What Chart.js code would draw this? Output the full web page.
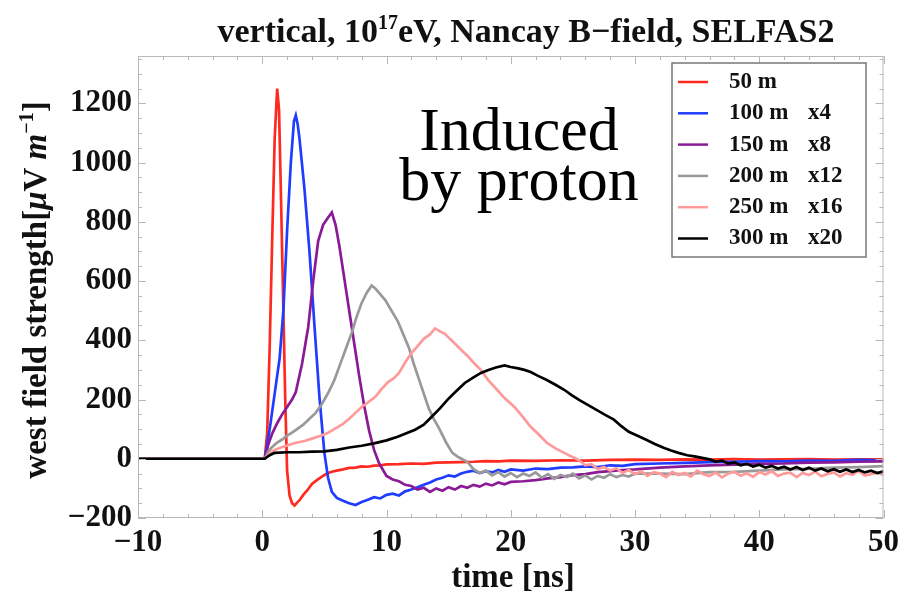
<!DOCTYPE html>
<html>
<head>
<meta charset="utf-8">
<script src="https://cdn.jsdelivr.net/npm/chart.js@4"></script>
<style>
  html, body { margin: 0; padding: 0; background: #fff; }
  #wrap { width: 905px; height: 601px; position: relative; }
</style>
</head>
<body>
<div id="wrap"><canvas id="chart"></canvas></div>
<script>
// field traces, [time ns, field µV/m] (already multiplied by the scale factor)
const trace50 = [[-10,0],[0.2,0],[0.4,90],[0.6,380],[0.8,740],[1.0,1080],[1.2,1250],[1.35,1180],[1.5,900],[1.7,500],[1.85,200],[2.0,-40],[2.2,-125],[2.4,-150],[2.6,-158],[2.8,-148],[3.0,-140],[3.3,-122],[3.6,-108],[4.0,-85],[4.4,-72],[4.8,-60],[5.2,-50],[5.6,-44],[6.0,-40],[6.5,-36],[7.0,-31],[7.5,-30],[8.0,-26],[8.5,-27],[9.0,-23],[9.5,-22],[10,-19],[11,-18],[12,-16],[13,-17],[14,-13],[15,-12],[16,-11],[17,-10],[18,-8],[19,-9],[20,-6],[22,-7],[24,-5],[26,-6],[28,-4],[30,-3],[32,-4],[34,-2],[36,-3],[38,-1],[40,-3],[42,-2],[44,-1],[46,-3],[48,-2],[50,-2]]
const trace100 = [[-10,0],[0.2,0],[0.6,100],[1.0,220],[1.4,340],[1.7,500],[2.0,770],[2.3,1000],[2.55,1140],[2.7,1160],[2.85,1130],[3.0,1080],[3.4,910],[3.8,700],[4.2,450],[4.6,210],[5.0,20],[5.3,-65],[5.6,-112],[6.0,-132],[6.5,-142],[7.0,-150],[7.5,-156],[8,-146],[8.5,-138],[9,-130],[9.5,-134],[10,-122],[10.5,-118],[11,-124],[11.5,-110],[12,-104],[12.5,-96],[13,-88],[13.5,-80],[14,-70],[14.5,-64],[15,-56],[15.5,-60],[16,-50],[16.5,-44],[17,-40],[17.5,-48],[18,-42],[18.5,-46],[19,-38],[19.5,-44],[20,-36],[21,-40],[22,-33],[23,-35],[24,-30],[25,-29],[26,-26],[27,-28],[28,-22],[29,-24],[30,-18],[32,-16],[34,-14],[36,-11],[38,-10],[40,-8],[42,-9],[44,-6],[46,-7],[48,-4],[50,-5]]
const trace150 = [[-10,0],[0.2,0],[0.5,50],[0.8,85],[1.2,120],[1.6,150],[2.0,175],[2.4,200],[2.7,225],[3.2,320],[3.7,445],[4.1,600],[4.5,735],[4.9,790],[5.3,815],[5.6,832],[5.9,790],[6.2,720],[6.6,610],[7.0,500],[7.4,390],[7.8,280],[8.2,180],[8.6,95],[9.0,30],[9.4,-15],[10,-58],[10.5,-70],[11,-76],[11.5,-88],[12,-92],[12.5,-104],[13,-98],[13.5,-112],[14,-100],[14.5,-108],[15,-96],[15.5,-104],[16,-92],[16.5,-98],[17,-88],[17.5,-94],[18,-84],[18.5,-90],[19,-80],[19.5,-86],[20,-78],[21,-76],[22,-72],[23,-66],[24,-62],[25,-55],[26,-52],[27,-45],[28,-42],[29,-38],[30,-36],[32,-30],[34,-26],[36,-22],[38,-20],[40,-17],[42,-16],[44,-13],[46,-12],[48,-10],[50,-9]]
const trace200 = [[-10,0],[0.2,0],[0.5,25],[0.8,40],[1.2,55],[1.6,65],[2.0,78],[2.4,88],[2.8,100],[3.3,115],[3.8,135],[4.3,155],[4.8,185],[5.3,222],[5.8,265],[6.4,334],[6.8,380],[7.2,425],[7.6,480],[8.0,526],[8.4,560],[8.8,585],[9.1,575],[9.4,560],[9.9,536],[10.4,500],[10.9,465],[11.4,415],[11.8,375],[12.2,320],[12.6,270],[13.0,220],[13.4,170],[13.8,135],[14.2,105],[14.8,55],[15.3,20],[15.8,5],[16.5,-10],[17,-35],[17.5,-48],[18,-40],[18.5,-56],[19,-45],[19.5,-60],[20,-48],[20.5,-62],[21,-50],[21.5,-58],[22,-46],[22.5,-64],[23,-52],[23.5,-68],[24,-55],[24.5,-62],[25,-50],[25.5,-66],[26,-56],[26.5,-70],[27,-58],[27.5,-64],[28,-52],[28.5,-62],[29,-55],[29.5,-60],[30,-50],[32,-50],[34,-52],[36,-45],[38,-44],[40,-40],[42,-36],[44,-34],[46,-30],[48,-28],[50,-25]]
const trace250 = [[-10,0],[0.2,0],[0.6,18],[1.0,30],[1.5,38],[2.0,45],[2.7,54],[3.4,60],[4.0,68],[4.7,78],[5.3,88],[6.0,105],[6.5,118],[7.0,135],[7.5,155],[8.0,175],[8.5,190],[9.1,209],[9.6,235],[10.1,258],[10.6,272],[11.0,290],[11.5,325],[12.0,357],[12.5,380],[13.0,405],[13.5,420],[13.9,440],[14.3,430],[14.7,422],[15.1,405],[15.6,385],[16.0,368],[16.5,348],[17.0,325],[17.6,300],[18.2,265],[18.9,233],[19.5,205],[20.3,175],[21.0,140],[21.6,108],[22.3,80],[22.9,54],[23.6,35],[24.3,20],[25.0,5],[25.5,-5],[26,-22],[26.5,-18],[27,-35],[27.5,-28],[28,-40],[28.5,-32],[29,-48],[29.5,-38],[30,-52],[30.5,-42],[31,-58],[31.5,-45],[32,-50],[32.5,-62],[33,-44],[33.5,-55],[34,-48],[34.5,-60],[35,-40],[35.5,-52],[36,-58],[36.5,-46],[37,-63],[37.5,-50],[38,-44],[38.5,-57],[39,-49],[39.5,-61],[40,-45],[40.5,-53],[41,-42],[41.5,-58],[42,-50],[42.5,-47],[43,-62],[43.5,-48],[44,-55],[44.5,-43],[45,-59],[45.5,-51],[46,-46],[46.5,-60],[47,-49],[47.5,-54],[48,-41],[48.5,-57],[49,-52],[49.5,-47],[50,-55]]
const trace300 = [[-10,0],[0.2,0],[0.6,12],[1.0,20],[2,22],[3,22],[4,24],[5,25],[6,30],[7,38],[8,44],[9,52],[10,62],[10.9,74],[11.6,86],[12.3,98],[13,115],[13.6,140],[14.3,170],[14.9,199],[15.6,228],[16.3,256],[17,275],[17.6,290],[18.2,300],[18.8,308],[19.5,315],[20.0,310],[20.6,305],[21.1,300],[21.6,293],[22.2,280],[22.9,266],[23.6,250],[24.3,233],[24.9,215],[25.5,199],[26.2,182],[26.9,165],[27.6,148],[28.3,132],[28.9,110],[29.5,91],[30.2,78],[30.9,64],[31.6,50],[32.3,37],[32.9,28],[33.5,20],[34.2,12],[34.9,7],[35.5,2],[36,-2],[36.5,-10],[37,-6],[37.5,-16],[38,-12],[38.5,-22],[39,-17],[39.5,-26],[40,-20],[40.5,-30],[41,-24],[41.5,-33],[42,-27],[42.5,-36],[43,-28],[43.5,-38],[44,-30],[44.5,-40],[45,-33],[45.5,-42],[46,-35],[46.5,-44],[47,-36],[47.5,-45],[48,-38],[48.5,-46],[49,-40],[49.5,-48],[50,-42]]

const distances = ['50 m', '100 m', '150 m', '200 m', '250 m', '300 m']
const factors = ['', 'x4', 'x8', 'x12', 'x16', 'x20']
const colors = ['#ff2a1f', '#1f3cff', '#8a1a96', '#999999', '#ff9a9a', '#000000']
const traces = [trace50, trace100, trace150, trace200, trace250, trace300]

const xTicks = [-10, 0, 10, 20, 30, 40, 50]
const yTicks = [-200, 0, 200, 400, 600, 800, 1000, 1200]

const SERIF = '"Liberation Serif", "Times New Roman", serif'

// draws a run of text pieces with different fonts, centred on x
function drawRich(ctx, parts, x, y) {
    let w = 0
    parts.forEach(p => { ctx.font = p.font; w += ctx.measureText(p.text).width })
    let cx = x - w / 2
    ctx.textAlign = 'left'
    ctx.textBaseline = 'alphabetic'
    parts.forEach(p => {
        ctx.font = p.font
        ctx.fillText(p.text, cx, y + (p.dy || 0))
        cx += ctx.measureText(p.text).width
    })
}

const decorations = {
    id: 'decorations',
    afterDatasetsDraw(chart) {
        const ctx = chart.ctx
        const area = chart.chartArea
        const xs = chart.scales.x
        const ys = chart.scales.y
        ctx.save()

        // frame with inward ticks
        ctx.strokeStyle = '#b8b8b8'
        ctx.lineWidth = 1
        ctx.strokeRect(area.left + 0.5, area.top + 0.5, area.right - area.left - 1, area.bottom - area.top - 1)
        ctx.beginPath()
        for (let v = -10; v <= 50; v += 2) {
            const px = Math.round(xs.getPixelForValue(v)) + 0.5
            const len = v % 10 === 0 ? 8 : 4
            ctx.moveTo(px, area.bottom); ctx.lineTo(px, area.bottom - len)
            ctx.moveTo(px, area.top); ctx.lineTo(px, area.top + len)
        }
        for (let v = -200; v <= 1350; v += 50) {
            const py = Math.round(ys.getPixelForValue(v)) + 0.5
            const len = v % 200 === 0 ? 8 : 4
            ctx.moveTo(area.left, py); ctx.lineTo(area.left + len, py)
            ctx.moveTo(area.right, py); ctx.lineTo(area.right - len, py)
        }
        ctx.stroke()

        // legend box
        const lx = 672, ly = 63, lw = 194, lh = 194
        ctx.fillStyle = '#fff'
        ctx.fillRect(lx, ly, lw, lh)
        ctx.strokeStyle = '#777'
        ctx.lineWidth = 1.5
        ctx.strokeRect(lx, ly, lw, lh)
        ctx.fillStyle = '#111'
        ctx.font = 'bold 23px ' + SERIF
        ctx.textBaseline = 'middle'
        ctx.textAlign = 'left'
        distances.forEach((d, i) => {
            const ry = 82 + i * 31.3
            ctx.strokeStyle = colors[i]
            ctx.lineWidth = 2.5
            ctx.beginPath(); ctx.moveTo(678, ry); ctx.lineTo(708, ry); ctx.stroke()
            ctx.fillText(d, 729, ry)
            if (factors[i]) ctx.fillText(factors[i], 808, ry)
        })

        // annotation
        ctx.fillStyle = '#000'
        ctx.font = '62px ' + SERIF
        ctx.textAlign = 'center'
        ctx.textBaseline = 'alphabetic'
        ctx.fillText('Induced', 519, 150)
        ctx.fillText('by proton', 519, 200)

        // title
        ctx.fillStyle = '#111'
        const B = 'bold 33px ' + SERIF
        drawRich(ctx, [
            {text: 'vertical, 10', font: 'bold 34px ' + SERIF},
            {text: '17', font: 'bold 20px ' + SERIF, dy: -13},
            {text: 'eV, Nancay B\u2212field, SELFAS2', font: 'bold 34px ' + SERIF}
        ], 526, 42)

        // axis titles
        drawRich(ctx, [{text: 'time [ns]', font: B}], 513, 587)
        ctx.translate(46, 290)
        ctx.rotate(-Math.PI / 2)
        drawRich(ctx, [
            {text: 'west field strength[', font: B},
            {text: '\u03bc', font: 'bold italic 33px ' + SERIF},
            {text: 'V ', font: B},
            {text: 'm', font: 'bold italic 33px ' + SERIF},
            {text: '\u22121', font: 'bold 20px ' + SERIF, dy: -13},
            {text: ']', font: B}
        ], 0, 0)
        ctx.restore()
    }
}

const datasets = traces.map((t, i) => ({
    label: distances[i] + (factors[i] ? ' ' + factors[i] : ''),
    data: t,
    borderColor: colors[i],
    borderWidth: 2.7,
    pointRadius: 0,
    showLine: true,
    fill: false,
    tension: 0,
    order: traces.length - i
}))

const tickFont = {family: SERIF, size: 31, weight: 'bold'}
const minus = v => String(v).replace('-', '\u2212')

new Chart(document.getElementById('chart'), {
    type: 'scatter',
    data: {datasets},
    plugins: [decorations],
    options: {
        responsive: true,
        maintainAspectRatio: false,
        animation: false,
        layout: {padding: {left: 0, top: 56, right: 16, bottom: 0}},
        plugins: {legend: {display: false}, tooltip: {enabled: false}},
        scales: {
            x: {
                type: 'linear', min: -10, max: 50,
                afterFit: s => { s.height = 83 },
                afterBuildTicks: s => { s.ticks = xTicks.map(v => ({value: v})) },
                grid: {display: false, drawTicks: false},
                border: {display: false},
                ticks: {font: tickFont, color: '#111', padding: 6, maxRotation: 0, autoSkip: false, callback: minus}
            },
            y: {
                type: 'linear', min: -200, max: 1360,
                afterFit: s => { s.width = 138 },
                afterBuildTicks: s => { s.ticks = yTicks.map(v => ({value: v})) },
                grid: {display: false, drawTicks: false},
                border: {display: false},
                ticks: {font: tickFont, color: '#111', padding: 6, autoSkip: false, callback: minus}
            }
        }
    }
})
</script>
</body>
</html>
